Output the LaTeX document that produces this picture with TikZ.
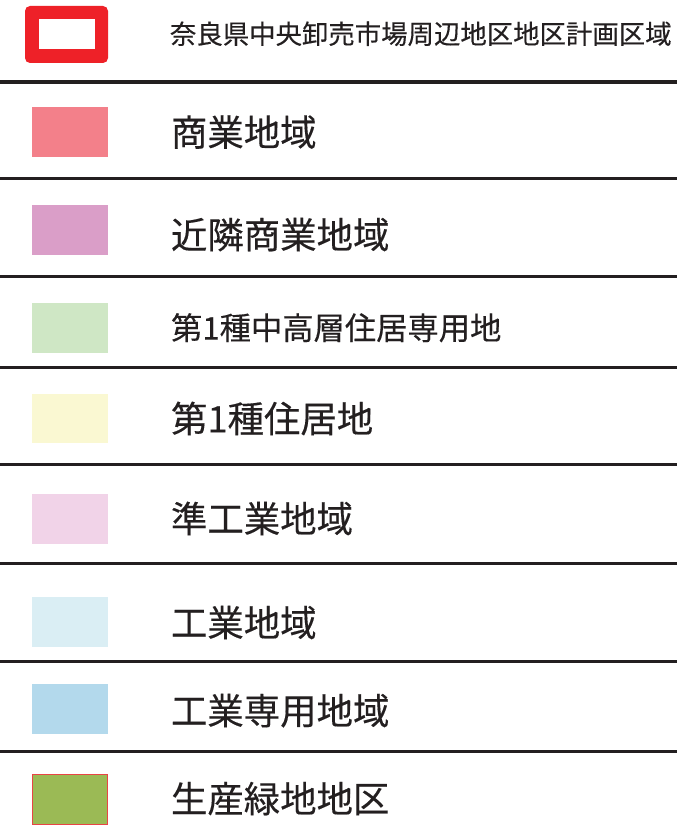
\documentclass[tikz,border=0pt]{standalone}
\usepackage{fontspec}
\newfontfamily\jp[FakeBold=0.3]{Noto Sans CJK JP}
\definecolor{ink}{HTML}{231F20}
\definecolor{frameRed}{HTML}{EE2128}
\definecolor{cA}{HTML}{F3808A}
\definecolor{cB}{HTML}{DA9EC8}
\definecolor{cC}{HTML}{CFE7C5}
\definecolor{cD}{HTML}{FAF8D2}
\definecolor{cE}{HTML}{F1D3E8}
\definecolor{cF}{HTML}{DAEEF4}
\definecolor{cG}{HTML}{B3D9EC}
\definecolor{cH}{HTML}{9BBA55}
\definecolor{cHb}{HTML}{E84545}
\tikzset{
  swatch/.style={rectangle, inner sep=0pt, outer sep=0pt, minimum width=76pt, minimum height=50pt},
  label/.style={anchor=base west, inner sep=0pt, outer sep=0pt, text=ink, font=\jp\fontsize{36.4}{36.4}\selectfont},
  rule/.style={draw=ink, line width=3.5pt},
}
\begin{document}
\begin{tikzpicture}[x=1pt,y=-1pt]
\useasboundingbox[fill=white] (0,0) rectangle (677,826);
% header row
\node[fill=frameRed, rounded corners=5pt, inner sep=0pt, minimum width=83pt, minimum height=57pt] (frame) at (66.5,34.5) {};
\node[fill=white, inner sep=0pt, minimum width=56pt, minimum height=30pt] (frameIn) at (67,34) {};
\node[label, font=\jp\fontsize{26.4}{26.4}\selectfont] (t0) at (170,43.8) {奈良県中央卸売市場周辺地区地区計画区域};
% separators
\foreach \y/\n in {82/a,178.5/b,276.5/c,367.5/d,464.5/e,563.5/f,661.5/g,751.5/h}{
  \coordinate (l\n) at (0,\y);
  \coordinate (r\n) at (677,\y);
  \draw[rule] (l\n) -- (r\n);
}
% swatches
\node[swatch, fill=cA] (s1) at (70,132) {};
\node[swatch, fill=cB] (s2) at (70,230) {};
\node[swatch, fill=cC] (s3) at (70,328) {};
\node[swatch, fill=cD, minimum height=49pt] (s4) at (70,418.5) {};
\node[swatch, fill=cE] (s5) at (70,519) {};
\node[swatch, fill=cF] (s6) at (70,622) {};
\node[swatch, fill=cG] (s7) at (70,709) {};
\node[swatch, fill=cH, draw=cHb, line width=1pt, minimum width=75pt, minimum height=50pt] (s8) at (70,799.5) {};
% labels
\node[label] (t1) at (171,145.9) {商業地域};
\node[label] (t2) at (171,248.4) {近隣商業地域};
\node[label, font=\jp\fontsize{31.3}{31.3}\selectfont] (t3) at (171,339.6) {第1種中高層住居専用地};
\node[label] (t4) at (171,432.4) {第1種住居地};
\node[label] (t5) at (171,532.4) {準工業地域};
\node[label] (t6) at (171,636.4) {工業地域};
\node[label] (t7) at (171,724.4) {工業専用地域};
\node[label] (t8) at (171,812.4) {生産緑地地区};
\end{tikzpicture}
\end{document}
